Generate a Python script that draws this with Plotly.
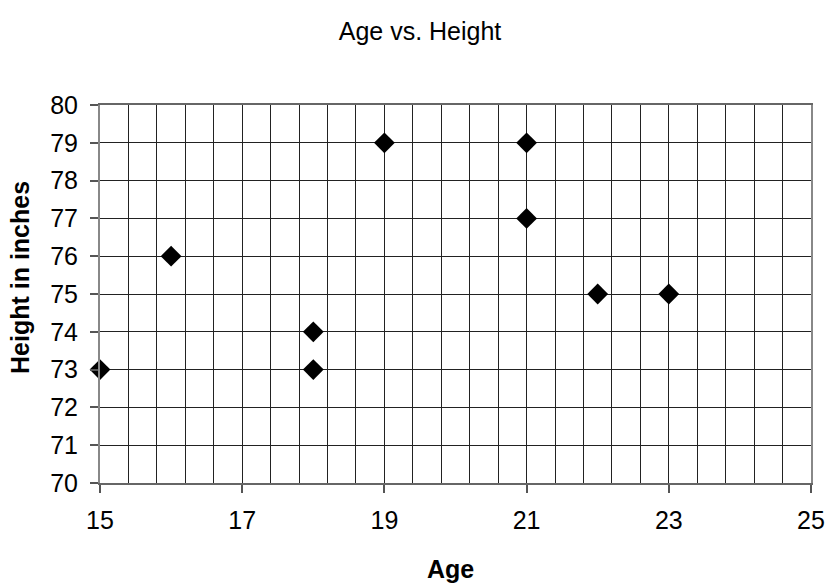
import plotly.graph_objects as go

ages = [15, 16, 18, 18, 19, 21, 21, 22, 23]
heights = [73, 76, 74, 73, 79, 79, 77, 75, 75]

title_text = "Age vs. Height"
x_title = "Age"
y_title = "Height in inches"

FONT = "Liberation Sans, Arial, sans-serif"
FS = 25

fig = go.Figure()
fig.add_trace(go.Scatter(
    x=ages, y=heights, mode="markers",
    marker=dict(symbol="diamond", size=16, color="black"),
    cliponaxis=False, showlegend=False,
))

fig.update_layout(
    width=827, height=583,
    margin=dict(l=100, r=16, t=105, b=100, autoexpand=False),
    paper_bgcolor="white", plot_bgcolor="white",
    font=dict(family=FONT, size=FS, color="black"),
    title=dict(text=title_text, x=420/827, xref="container", xanchor="center",
               y=1 - 31/583, yref="container", yanchor="middle",
               font=dict(family=FONT, size=FS, color="black")),
)

fig.update_xaxes(
    range=[15, 25], dtick=2, tick0=15, automargin=False,
    showgrid=True, gridcolor="#222222", gridwidth=1,
    minor=dict(dtick=0.4, tick0=15, showgrid=True, gridcolor="#222222", gridwidth=1, ticks=""),
    ticks="outside", ticklen=8, tickcolor="#555555", tickwidth=1.5,
    showline=True, linecolor="#666666", linewidth=2, mirror=True,
    zeroline=False, ticklabelstandoff=6,
    tickfont=dict(family=FONT, size=FS, color="black"),
)
fig.update_yaxes(
    range=[70, 80], dtick=1, tick0=70, automargin=False,
    showgrid=True, gridcolor="#222222", gridwidth=1,
    ticks="outside", ticklen=8, tickcolor="#555555", tickwidth=1.5,
    showline=True, linecolor="#888888", linewidth=2, mirror=True,
    zeroline=False, ticklabelstandoff=7,
    tickfont=dict(family=FONT, size=FS, color="black"),
)

fig.add_annotation(text="<b>" + y_title + "</b>", xref="paper", yref="paper",
                   x=-80/711, y=(483-278)/378, xanchor="center", yanchor="middle",
                   textangle=-90, showarrow=False,
                   font=dict(family=FONT, size=FS, color="black"))
fig.add_annotation(text="<b>" + x_title + "</b>", xref="paper", yref="paper",
                   x=(450-100)/711, y=-(569-483)/378, xanchor="center", yanchor="middle",
                   showarrow=False,
                   font=dict(family=FONT, size=FS, color="black"))

fig.write_html("out.html", config={"displayModeBar": False},
               post_script="document.body.style.margin='0';")
